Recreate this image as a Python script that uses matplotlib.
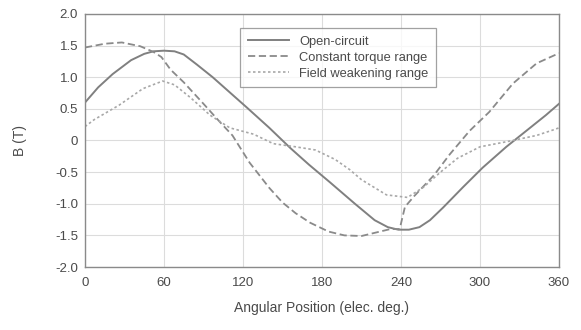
import matplotlib
matplotlib.use("Agg")
import matplotlib.pyplot as plt

# Open-circuit flux density (solid)
oc_deg = [0, 10, 21, 35, 45, 52, 60, 68, 75, 85, 97, 110, 123, 140, 156, 170,
          186, 205, 220, 230, 238, 246, 254, 262, 272, 287, 302, 320, 335,
          350, 360]
oc_b = [0.60, 0.84, 1.05, 1.27, 1.37, 1.41, 1.42, 1.41, 1.36, 1.20, 1.00,
        0.76, 0.52, 0.20, -0.12, -0.38, -0.66, -1.00, -1.26, -1.37, -1.41,
        -1.41, -1.37, -1.26, -1.06, -0.74, -0.43, -0.10, 0.15, 0.40, 0.58]

# Constant torque range (dashed)
ct_deg = [0, 15, 28, 42, 52, 58, 65, 75, 90, 103, 112, 125, 140, 150, 160,
          171, 185, 197, 210, 222, 232, 239, 243, 250, 265, 277, 292, 307,
          325, 343, 360]
ct_b = [1.47, 1.53, 1.55, 1.49, 1.40, 1.32, 1.12, 0.92, 0.58, 0.28, 0.08,
        -0.35, -0.75, -0.98, -1.15, -1.30, -1.44, -1.50, -1.51, -1.45, -1.40,
        -1.40, -1.05, -0.88, -0.55, -0.22, 0.15, 0.45, 0.90, 1.22, 1.38]

# Field weakening range (dotted)
fw_deg = [0, 7, 26, 44, 59, 68, 80, 95, 110, 128, 143, 160, 175, 190, 201,
          210, 229, 245, 257, 270, 283, 300, 320, 343, 356, 360]
fw_b = [0.22, 0.33, 0.56, 0.82, 0.94, 0.88, 0.68, 0.40, 0.20, 0.10, -0.05,
        -0.10, -0.15, -0.30, -0.46, -0.62, -0.86, -0.90, -0.74, -0.50, -0.28,
        -0.10, -0.02, 0.08, 0.17, 0.20]

x_ticks = [0, 60, 120, 180, 240, 300, 360]
y_ticks = [-2.0, -1.5, -1.0, -0.5, 0, 0.5, 1.0, 1.5, 2.0]
y_labels = ["-2.0", "-1.5", "-1.0", "-0.5", "0", "0.5", "1.0", "1.5", "2.0"]

plt.rcParams["font.family"] = ["Liberation Sans", "DejaVu Sans"]
txt = "#4a4a4a"
line_c = "#8a8a8a"

fig = plt.figure(figsize=(5.81, 3.30), dpi=100)
ax = fig.add_axes([0.1463, 0.1909, 0.8158, 0.7667])

ax.plot(oc_deg, oc_b, color="#808080", lw=1.4, ls="-", label="Open-circuit")
ax.plot(ct_deg, ct_b, color=line_c, lw=1.3, ls=(0, (4, 2)),
        label="Constant torque range")
ax.plot(fw_deg, fw_b, color="#a8a8a8", lw=1.2, ls=(0, (1.5, 1.5)),
        label="Field weakening range")

ax.set_xlim(0, 360)
ax.set_ylim(-2.0, 2.0)
ax.set_xticks(x_ticks)
ax.set_yticks(y_ticks)
ax.set_yticklabels(y_labels)
ax.tick_params(length=0, labelsize=9.5, colors=txt)
ax.tick_params(axis="x", pad=7)
ax.tick_params(axis="y", pad=5)
ax.grid(True, color="#dcdcdc", lw=0.8)
for s in ax.spines.values():
    s.set_color("#8a8a8a")
    s.set_linewidth(1.0)

ax.set_xlabel("Angular Position (elec. deg.)", fontsize=10, color=txt,
              labelpad=9)
ax.set_ylabel("B (T)", fontsize=10, color=txt, labelpad=20)

leg = ax.legend(loc="upper left", bbox_to_anchor=(0.327, 0.945),
                fontsize=9.3, frameon=True, fancybox=False,
                handlelength=3.2, handletextpad=0.8, borderpad=0.6,
                labelspacing=0.3, edgecolor="#8a8a8a", borderaxespad=0)
leg.get_frame().set_linewidth(0.9)
for t in leg.get_texts():
    t.set_color(txt)

fig.savefig("out.png", dpi=100)
